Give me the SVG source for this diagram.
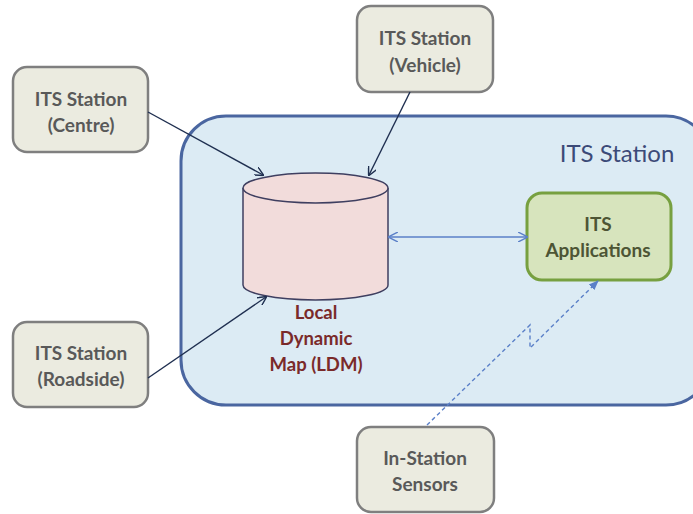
<svg xmlns="http://www.w3.org/2000/svg" width="693" height="514" viewBox="0 0 693 514">
<defs>
<style>
.ext rect{fill:#ebebe0;stroke:#7f7f7f;stroke-width:2.5}
.ext text{font-family:"Lato","Open Sans","Liberation Sans",sans-serif;font-weight:bold;font-size:19px;fill:#595959;text-anchor:middle}
.conn{stroke:#1f2f50;stroke-width:1.4;fill:none;marker-end:url(#ah)}
.blue{stroke:#5b80c8;stroke-width:1.4;fill:none}
</style>
<marker id="ah" viewBox="0 0 10 10" refX="9" refY="5" markerWidth="9" markerHeight="9" markerUnits="userSpaceOnUse" orient="auto"><path d="M0,0 L10,5 L0,10" fill="none" stroke="#1f2f50" stroke-width="1.6"/></marker>
<marker id="bh" viewBox="0 0 10 10" refX="9" refY="5" markerWidth="10" markerHeight="10" markerUnits="userSpaceOnUse" orient="auto"><path d="M0,0 L10,5 L0,10" fill="none" stroke="#5b80c8" stroke-width="1.4"/></marker>
<marker id="bs" viewBox="0 0 10 10" refX="1" refY="5" markerWidth="10" markerHeight="10" markerUnits="userSpaceOnUse" orient="auto"><path d="M10,0 L0,5 L10,10" fill="none" stroke="#5b80c8" stroke-width="1.4"/></marker>
<marker id="bf" viewBox="0 0 10 10" refX="9" refY="5" markerWidth="10" markerHeight="10" markerUnits="userSpaceOnUse" orient="auto"><path d="M0,1 L10,5 L0,9 Z" fill="#5b80c8"/></marker>
</defs>
<rect width="693" height="514" fill="#ffffff"/>
<g id="its-station">
<rect x="181" y="116" width="530" height="289" rx="45" fill="#dcebf4" stroke="#4a66a0" stroke-width="3"/>
<text x="617" y="162" font-family="Lato,'Open Sans','Liberation Sans',sans-serif" font-size="24" fill="#3c4a78" text-anchor="middle">ITS Station</text>
</g>
<g id="ldm">
<path d="M243,188 L243,285 A72.5,15 0 0 0 388,285 L388,188" fill="#f2dcdb" stroke="#3f3f60" stroke-width="1.5"/>
<ellipse cx="315.5" cy="188" rx="72.5" ry="15" fill="#f2dcdb" stroke="#3f3f60" stroke-width="1.5"/>
<g font-family="Lato,'Open Sans','Liberation Sans',sans-serif" font-weight="bold" font-size="18.5" fill="#7a2a2a" text-anchor="middle">
<text x="316" y="319">Local</text>
<text x="316" y="345">Dynamic</text>
<text x="316" y="371">Map (LDM)</text>
</g>
</g>
<g id="its-applications">
<rect x="527" y="193" width="144" height="87" rx="15" fill="#d7e4bd" stroke="#77a040" stroke-width="3"/>
<g font-family="Lato,'Open Sans','Liberation Sans',sans-serif" font-weight="bold" font-size="19" fill="#4d5535" text-anchor="middle">
<text x="598" y="231">ITS</text>
<text x="598" y="257">Applications</text>
</g>
</g>
<g id="centre" class="ext">
<rect x="13" y="67" width="135" height="85" rx="14"/>
<text x="81" y="106">ITS Station</text>
<text x="81" y="132">(Centre)</text>
</g>
<g id="vehicle" class="ext">
<rect x="357" y="6" width="136" height="86" rx="14"/>
<text x="425" y="45">ITS Station</text>
<text x="425" y="72">(Vehicle)</text>
</g>
<g id="roadside" class="ext">
<rect x="13" y="322" width="135" height="85" rx="14"/>
<text x="81" y="360">ITS Station</text>
<text x="81" y="386">(Roadside)</text>
</g>
<g id="sensors" class="ext">
<rect x="357" y="427" width="137" height="85" rx="14"/>
<text x="425" y="465">In-Station</text>
<text x="425" y="491">Sensors</text>
</g>
<g id="connectors">
<path class="conn" d="M148,112 L263,175"/>
<path class="conn" d="M410,92 L369,175"/>
<path class="conn" d="M148,378 L266,297"/>
<path class="blue" d="M389,237 L527,237" marker-start="url(#bs)" marker-end="url(#bh)"/>
<path class="blue" d="M427,425 L530,325 L530,348 L598,281" stroke-dasharray="4,3" marker-end="url(#bf)"/>
</g>
</svg>
